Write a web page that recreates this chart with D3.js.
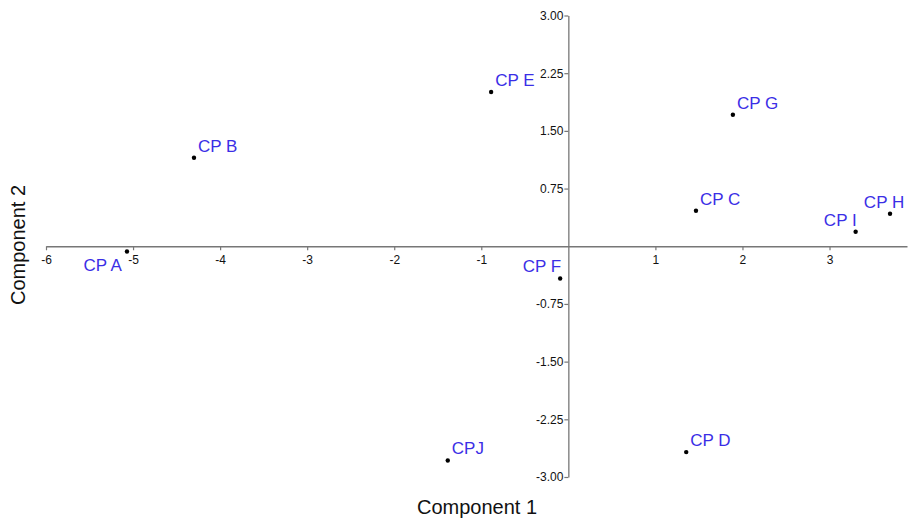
<!DOCTYPE html>
<html>
<head>
<meta charset="utf-8">
<script src="https://cdn.jsdelivr.net/npm/d3@7/dist/d3.min.js"></script>
<style>
  body { margin: 0; background: #fff; }
  svg { display: block; font-family: "Liberation Sans", Arial, sans-serif; }
</style>
</head>
<body>
<svg id="chart" width="909" height="522"></svg>
<script>
const labels = ["CP A", "CP B", "CP C", "CP D", "CP E", "CP F", "CP G", "CP H", "CP I", "CPJ"];
const comp1 = [-5.07, -4.30, 1.466, 1.354, -0.887, -0.094, 1.89, 3.695, 3.30, -1.385];
const comp2 = [-0.068, 1.15, 0.461, -2.676, 2.005, -0.419, 1.71, 0.423, 0.189, -2.785];
// label placement: "ur" upper-right, "ul" upper-left, "um" upper-middle, "ll" lower-left
const placement = ["ll", "ur", "ur", "ur", "ur", "ul", "ur", "um", "ul", "ur"];
const xTicks = [-6, -5, -4, -3, -2, -1, 1, 2, 3];
const yTicks = [3.00, 2.25, 1.50, 0.75, -0.75, -1.50, -2.25, -3.00];

const svg = d3.select("#chart");
const x = d3.scaleLinear().domain([-6, 3.89]).range([46, 907]);
const y = d3.scaleLinear().domain([-3, 3]).range([477, 15.5]);

const axisColor = "#777";
const hyph = s => s.replace("\u2212", "-");

// X axis through y=0
const gx = svg.append("g").attr("transform", `translate(0,${y(0)})`)
  .call(d3.axisBottom(x).tickValues(xTicks).tickSize(4).tickSizeOuter(0).tickFormat(d => hyph(d3.format("d")(d))));
gx.select(".domain").attr("stroke", axisColor).attr("stroke-width", 1.3);
gx.selectAll(".tick line").attr("stroke", axisColor).attr("stroke-width", 1.2);
gx.selectAll(".tick text").attr("font-size", 12).attr("fill", "#111").attr("dy", "0.9em")
  .attr("font-family", "Liberation Sans, Arial, sans-serif");

// Y axis through x=0
const gy = svg.append("g").attr("transform", `translate(${x(0)},0)`)
  .call(d3.axisLeft(y).tickValues(yTicks).tickSize(4).tickSizeOuter(0).tickFormat(d => hyph(d3.format(".2f")(d))));
gy.select(".domain").attr("stroke", axisColor).attr("stroke-width", 1.3);
gy.selectAll(".tick line").attr("stroke", axisColor).attr("stroke-width", 1.2);
gy.selectAll(".tick text").attr("font-size", 12).attr("fill", "#111").attr("x", -5)
  .attr("font-family", "Liberation Sans, Arial, sans-serif");

// Points
const data = labels.map((l, i) => ({ label: l, x: comp1[i], y: comp2[i], p: placement[i] }));
svg.append("g").selectAll("circle").data(data).join("circle")
  .attr("cx", d => x(d.x)).attr("cy", d => y(d.y)).attr("r", 2.2).attr("fill", "#000");

const lx = d => d.p === "ur" ? x(d.x) + 4 : d.p === "ul" ? x(d.x) + 1 : d.p === "um" ? x(d.x) - 6 : x(d.x) - 5;
svg.append("g").selectAll("text").data(data).join("text")
  .attr("x", lx)
  .attr("y", d => d.p === "ll" ? y(d.y) + 20 : y(d.y) - 6)
  .attr("text-anchor", d => d.p === "ur" ? "start" : d.p === "um" ? "middle" : "end")
  .attr("font-size", 17)
  .attr("fill", "#3b2ee6")
  .text(d => d.label);

// Axis titles
svg.append("text").attr("x", 477).attr("y", 514).attr("text-anchor", "middle")
  .attr("font-size", 20).attr("fill", "#111").text("Component 1");
svg.append("text").attr("transform", "translate(25,245) rotate(-90)").attr("text-anchor", "middle")
  .attr("font-size", 20).attr("fill", "#111").text("Component 2");
</script>
</body>
</html>
